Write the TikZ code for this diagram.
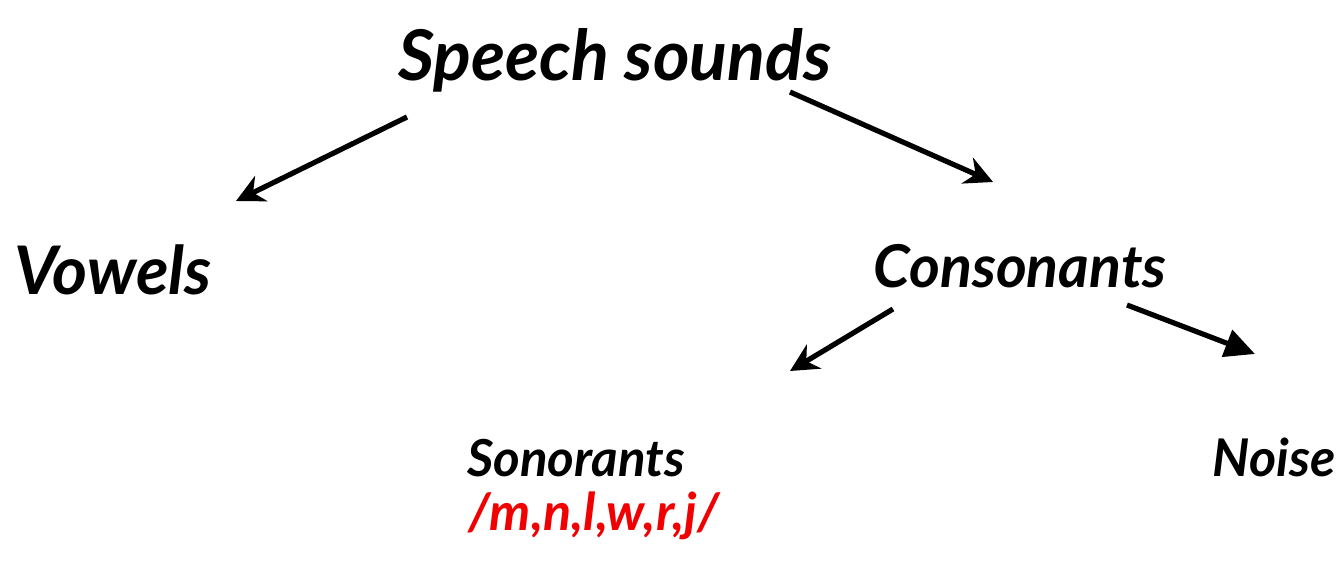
\documentclass[tikz,border=0pt]{standalone}
\usepackage{fontspec}
\setmainfont{Lato}
\usetikzlibrary{arrows.meta}
\definecolor{lblred}{RGB}{240,0,0}
\begin{document}
\begin{tikzpicture}[x=1pt,y=-1pt,
  lbl/.style={inner sep=0pt, anchor=base, text=black},
  conn/.style={line width=5.2pt, -{Stealth[length=28pt,width=28pt,inset=9pt]}},
  connt/.style={line width=5.2pt, -{Triangle[length=30pt,width=28pt]}}]
\useasboundingbox (0,0) rectangle (1342,560);
\node[lbl, font=\fontsize{70}{80}\selectfont\bfseries\itshape] (speech) at (615,80) {Speech sounds};
\node[lbl, font=\fontsize{67}{76}\selectfont\bfseries\itshape] (vowels) at (113,294) {Vowels};
\node[lbl, font=\fontsize{59}{68}\selectfont\bfseries\itshape] (cons) at (1020,287) {Consonants};
\node[lbl, font=\fontsize{51}{60}\selectfont\bfseries\itshape] (son) at (576,476) {Sonorants};
\node[lbl, font=\fontsize{52}{60}\selectfont\bfseries\itshape] (noise) at (1274,476) {Noise};
\node[lbl, font=\fontsize{52}{60}\selectfont\bfseries\itshape, text=lblred] (ipa) at (594,530) {/m,n,l,w,r,j/};
\coordinate (s1) at (407,117);
\coordinate (v1) at (236,201);
\coordinate (s2) at (790,92);
\coordinate (c1) at (993,182);
\coordinate (c2) at (893,309);
\coordinate (so1) at (790,371);
\coordinate (c3) at (1127,305);
\coordinate (n1) at (1255,354);
\draw[conn] (s1) -- (v1);
\draw[conn] (s2) -- (c1);
\draw[conn] (c2) -- (so1);
\draw[connt] (c3) -- (n1);
\end{tikzpicture}
\end{document}
